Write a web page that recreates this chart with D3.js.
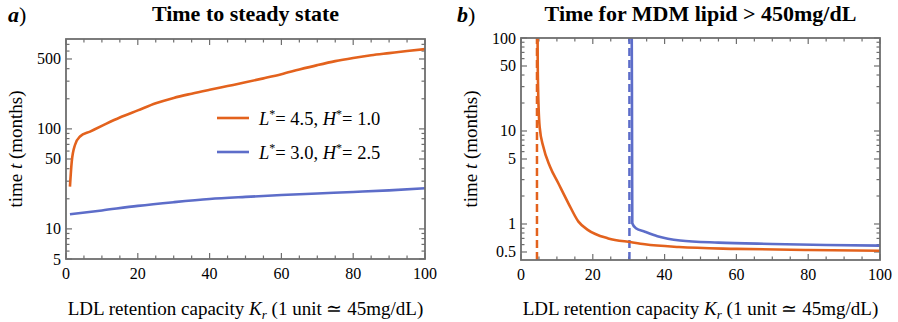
<!DOCTYPE html>
<html><head><meta charset="utf-8">
<script src="https://cdn.jsdelivr.net/npm/d3@7"></script>
<style>
html,body{margin:0;padding:0;background:#fff;}
text{font-family:"Liberation Serif","Times New Roman",serif;fill:#000;}
</style></head>
<body><svg id="chart" width="898" height="322"></svg>
<script>
// ---- data ----
const titles = ["Time to steady state", "Time for MDM lipid > 450mg/dL"];
const panelLetters = ["a", "b"];
const xTickLabels = [0, 20, 40, 60, 80, 100];
const yTickLabelsA = [5, 10, 50, 100, 500];
const yTickLabelsB = [0.5, 1, 5, 10, 50, 100];
const legendLabels = [["4.5", "1.0"], ["3.0", "2.5"]];

// panel a: time to steady state
const kA_orange = [1.1, 1.6, 2.5, 3.9, 6.7, 10.4, 15, 20, 25, 30, 35, 40, 45, 50, 55, 60, 65, 70, 75, 80, 85, 90, 95, 100];
const tA_orange = [26.5, 47, 69, 84, 94, 109, 130, 153, 180, 204, 225, 246, 268, 292, 320, 352, 392, 434, 476, 512, 545, 572, 600, 628];
const kA_blue = [1.1, 10, 20, 30, 40, 50, 60, 70, 80, 90, 100];
const tA_blue = [14.0, 15.3, 17.0, 18.5, 19.9, 20.9, 21.8, 22.6, 23.4, 24.3, 25.5];

// panel b: time for MDM lipid > 450 mg/dL
const kB_orange = [4.62, 4.65, 4.75, 4.9, 5.2, 6.2, 8.1, 10.4, 13.2, 16, 18.7, 24.3, 30.8, 34.5, 44, 60, 80, 100];
const tB_orange = [100, 60, 30, 18, 11, 6.8, 4.13, 2.74, 1.67, 1.06, 0.86, 0.70, 0.636, 0.605, 0.565, 0.54, 0.525, 0.515];
const kB_blue = [30.85, 30.9, 30.95, 31.0, 32, 34.5, 38, 44.3, 55, 70, 85, 100];
const tB_blue = [100, 30, 5, 1.02, 0.9, 0.826, 0.74, 0.665, 0.63, 0.61, 0.595, 0.585];
const asymptoteOrange = 4.45;
const asymptoteBlue = 30.2;

const ORANGE = "#E3621D", BLUE = "#5D6DC9", FRAME = "#6e6e6e";

const svg = d3.select("#chart");

function panel(opts) {
  const g = svg.append("g");
  const x = d3.scaleLinear().domain([0, 100]).range([opts.left, opts.right]);
  const y = d3.scaleLog().domain(opts.yDomain).range([opts.bottom, opts.top]);
  const clipId = "clip" + opts.id;
  svg.append("clipPath").attr("id", clipId).append("rect")
    .attr("x", opts.left).attr("y", opts.top)
    .attr("width", opts.right - opts.left).attr("height", opts.bottom - opts.top);

  // ticks (inward on all four sides)
  const tg = g.append("g").attr("stroke", FRAME).attr("stroke-width", 1.2);
  x.ticks(20).forEach(v => {
    const major = xTickLabels.includes(v);
    const L = major ? 6 : 3.5;
    tg.append("line").attr("x1", x(v)).attr("x2", x(v)).attr("y1", opts.bottom).attr("y2", opts.bottom - L);
    tg.append("line").attr("x1", x(v)).attr("x2", x(v)).attr("y1", opts.top).attr("y2", opts.top + L);
  });
  y.ticks().forEach(v => {
    const major = opts.yLabels.some(l => Math.abs(l - v) < 1e-9);
    const L = major ? 6 : 3.5;
    tg.append("line").attr("y1", y(v)).attr("y2", y(v)).attr("x1", opts.left).attr("x2", opts.left + L);
    tg.append("line").attr("y1", y(v)).attr("y2", y(v)).attr("x1", opts.right).attr("x2", opts.right - L);
  });

  // tick labels
  xTickLabels.forEach(v => {
    g.append("text").attr("x", x(v)).attr("y", opts.bottom + 20)
      .attr("text-anchor", "middle").attr("font-size", 16).text(v);
  });
  opts.yLabels.forEach(v => {
    g.append("text").attr("x", opts.left - 5).attr("y", y(v) + 5.5)
      .attr("text-anchor", "end").attr("font-size", 16).text(v);
  });

  // data
  const dg = g.append("g").attr("clip-path", `url(#${clipId})`);
  (opts.vlines || []).forEach(vl => {
    dg.append("line").attr("x1", x(vl.k)).attr("x2", x(vl.k))
      .attr("y1", opts.bottom).attr("y2", opts.top)
      .attr("stroke", vl.color).attr("stroke-width", 2.5).attr("stroke-dasharray", "8,4");
  });
  opts.series.forEach(s => {
    const pts = s.k.map((k, i) => [k, s.t[i]]);
    const line = d3.line().x(d => x(d[0])).y(d => y(d[1])).curve(d3.curveMonotoneX);
    dg.append("path").attr("d", line(pts)).attr("fill", "none")
      .attr("stroke", s.color).attr("stroke-width", 2.6).attr("stroke-linejoin", "round");
  });

  // frame
  g.append("rect").attr("x", opts.left).attr("y", opts.top)
    .attr("width", opts.right - opts.left).attr("height", opts.bottom - opts.top)
    .attr("fill", "none").attr("stroke", FRAME).attr("stroke-width", 1.8);

  const cx = (opts.left + opts.right) / 2;
  // title
  g.append("text").attr("x", cx).attr("y", 21).attr("text-anchor", "middle")
    .attr("font-size", 22).attr("font-weight", "bold").text(opts.title);
  // panel letter
  const pl = g.append("text").attr("x", opts.letterX).attr("y", 22).attr("font-size", 22);
  pl.append("tspan").attr("font-weight", "bold").attr("font-style", "italic").text(opts.letter);
  pl.append("tspan").text(")");

  // x label
  const xl = g.append("text").attr("x", cx).attr("y", 315).attr("text-anchor", "middle").attr("font-size", 19);
  xl.append("tspan").text("LDL retention capacity ");
  xl.append("tspan").attr("font-style", "italic").text("K");
  xl.append("tspan").attr("font-style", "italic").attr("font-size", 13).attr("dy", 4).text("r");
  xl.append("tspan").attr("dy", -4).text(" (1 unit \u2243 45mg/dL)");

  // y label
  const yl = g.append("text").attr("transform", `translate(${opts.yLabelX},${(opts.top + opts.bottom) / 2}) rotate(-90)`)
    .attr("text-anchor", "middle").attr("font-size", 19);
  yl.append("tspan").text("time ");
  yl.append("tspan").attr("font-style", "italic").text("t");
  yl.append("tspan").text(" (months)");
  return {g, x, y};
}

panel({
  id: "a", left: 66, right: 425, top: 39, bottom: 259, yDomain: [5, 792],
  yLabels: yTickLabelsA, title: titles[0], letter: panelLetters[0], letterX: 8, yLabelX: 22,
  series: [{k: kA_orange, t: tA_orange, color: ORANGE}, {k: kA_blue, t: tA_blue, color: BLUE}]
});

panel({
  id: "b", left: 521, right: 880, top: 38, bottom: 260, yDomain: [0.41, 100],
  yLabels: yTickLabelsB, title: titles[1], letter: panelLetters[1], letterX: 457, yLabelX: 477,
  vlines: [{k: asymptoteOrange, color: ORANGE}, {k: asymptoteBlue, color: BLUE}],
  series: [{k: kB_orange, t: tB_orange, color: ORANGE}, {k: kB_blue, t: tB_blue, color: BLUE}]
});

// legend (panel a)
const lg = svg.append("g");
[ORANGE, BLUE].forEach((c, i) => {
  const yy = 118 + i * 34;
  lg.append("line").attr("x1", 217).attr("x2", 249).attr("y1", yy).attr("y2", yy)
    .attr("stroke", c).attr("stroke-width", 2.6);
  const t = lg.append("text").attr("x", 259).attr("y", yy + 7).attr("font-size", 18.5);
  t.append("tspan").attr("font-style", "italic").text("L");
  t.append("tspan").attr("font-size", 12).attr("dy", -7).text("*");
  t.append("tspan").attr("dy", 7).text("= " + legendLabels[i][0] + ", ");
  t.append("tspan").attr("font-style", "italic").text("H");
  t.append("tspan").attr("font-size", 12).attr("dy", -7).text("*");
  t.append("tspan").attr("dy", 7).text("= " + legendLabels[i][1]);
});
</script></body></html>
